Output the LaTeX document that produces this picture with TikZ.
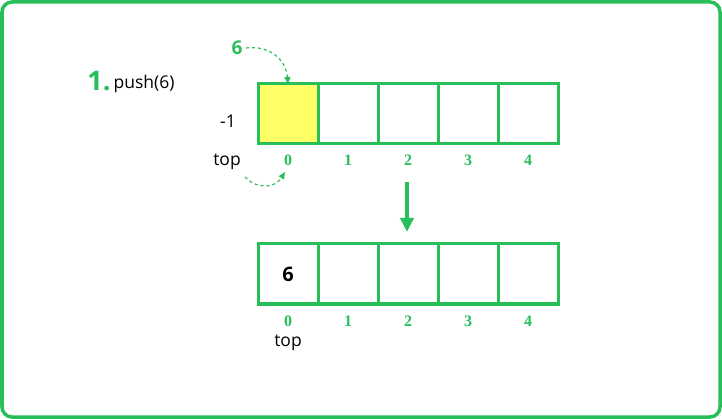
\documentclass[tikz,border=0pt]{standalone}
\usepackage{fontspec}
\setmainfont{Open Sans}[BoldFont={Open Sans Bold}]
\newfontfamily\idxfont{Liberation Serif}[BoldFont={Liberation Serif Bold}]
\usetikzlibrary{arrows.meta}
\definecolor{gfg}{RGB}{40,190,90}
\definecolor{cellyel}{RGB}{255,255,102}
\tikzset{
  cellbox/.style={draw=gfg, line width=3pt, minimum width=60pt, minimum height=60pt, inner sep=0pt, outer sep=0pt, anchor=north west},
  idx/.style={text=gfg, font=\idxfont\bfseries\fontsize{16}{16}\selectfont},
  lbl/.style={font=\fontsize{17.5}{17.5}\selectfont},
  dasharrow/.style={draw=gfg, line width=1.2pt, dashed, dash pattern=on 3pt off 3pt, -{Triangle[length=7pt,width=6pt]}},
}
\begin{document}
\begin{tikzpicture}[x=1pt,y=-1pt]
\useasboundingbox (0,0) rectangle (722,419);
\draw[gfg, line width=3.5pt, rounded corners=10pt] (2,2) rectangle (720,417);
% top row
\node[cellbox, fill=cellyel] (t0) at (258,84) {};
\foreach \i in {1,...,4} {
  \node[cellbox] (t\i) at (258+60*\i,84) {};
}
\foreach \i in {0,...,4} {
  \node[idx] (ti\i) at (288+60*\i,160) {\i};
}
% bottom row
\node[cellbox] (b0) at (258,244) {};
\node[font=\bfseries\fontsize{20}{20}\selectfont] (v0) at (b0.center) {6};
\foreach \i in {1,...,4} {
  \node[cellbox] (b\i) at (258+60*\i,244) {};
}
\foreach \i in {0,...,4} {
  \node[idx] (bi\i) at (288+60*\i,321) {\i};
}
% labels
\node[text=gfg, font=\bfseries\fontsize{27}{27}\selectfont] (step1) at (99,81) {1.};
\node[lbl, anchor=west] (push) at (110,84) {push(6)};
\node[lbl] (m1) at (228,121) {-1};
\node[lbl] (toplbl) at (227,162) {top};
\node[lbl] (topb) at (288,343) {top};
\node[text=gfg, font=\bfseries\fontsize{19}{19}\selectfont] (six) at (237,48) {6};
% dashed arrows
\draw[dasharrow] (six.east) .. controls (270,45) and (286,60) .. (t0.north);
\draw[dasharrow] (245,177) .. controls (258,190) and (275,188) .. (285,172);
% down arrow
\coordinate (as) at (407,182);
\coordinate (ae) at (407,232);
\draw[gfg, line width=3.5pt, -{Triangle[length=14pt,width=13pt]}] (as) -- (ae);
\end{tikzpicture}
\end{document}
